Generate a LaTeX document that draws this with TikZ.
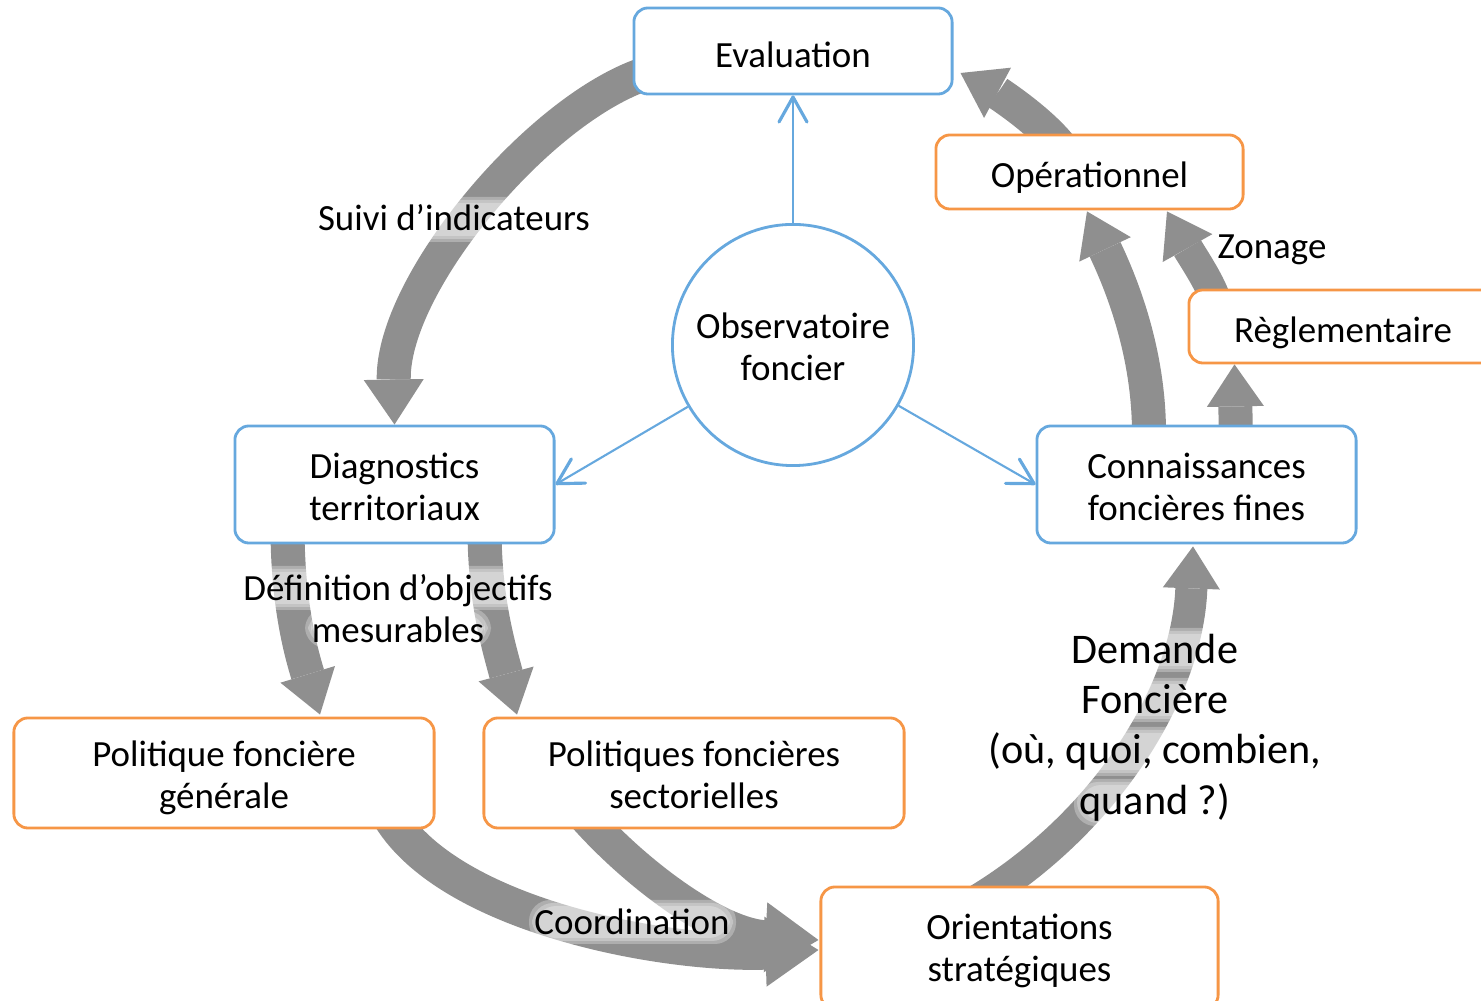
\documentclass[tikz,border=0pt]{standalone}
\usepackage{fontspec}
\setmainfont{Carlito}
\usetikzlibrary{arrows.meta,calc,backgrounds}
\pgfdeclarelayer{glow}
\pgfsetlayers{background,glow,main}

\definecolor{bluebd}{RGB}{102,168,222}
\definecolor{orangebd}{RGB}{246,150,70}
\definecolor{flowgray}{RGB}{143,143,143}

\newcommand\txtfont{\fontsize{10.5}{11.95}\selectfont}
\newcommand\bigtxtfont{\fontsize{12}{14.3}\selectfont}

\tikzset{
  box/.style={draw, line width=0.8pt, rounded corners=0.14cm, fill=white,
              align=center, font=\txtfont, inner sep=0pt},
  bluebox/.style={box, draw=bluebd},
  orangebox/.style={box, draw=orangebd},
  flow/.style={draw=flowgray, line width=0.34cm,
               -{Triangle[length=0.42cm, width=0.57cm, line width=0pt]}},
  link/.style={draw=bluebd, line width=0.6pt,
               -{Straight Barb[length=0.25cm, width=0.28cm, line width=0.9pt, round]}},
  lbl/.style={align=center, inner sep=0pt, font=\txtfont},
}

% soft light band behind one line of a label: three nested translucent
% white rounded rectangles give a fading edge
\newcommand\glowline[4]{%
  \begin{pgfonlayer}{glow}
    \foreach \e in {0,3,6}
      \fill[white, fill opacity=0.28, rounded corners=6pt]
        (#1-\e,#2-\e) rectangle (#3+\e,#4+\e);
  \end{pgfonlayer}}

\begin{document}
\begin{tikzpicture}[x=0.01cm, y=-0.01cm]
\useasboundingbox (0,0) rectangle (1481,1001);

% ---- boxes (frames, then their texts) ----
\node[bluebox, minimum width=3.18cm, minimum height=0.86cm] (eval) at (793,51) {};
\node[lbl] at ($(eval.center)+(0,3.5)$) {Evaluation};
\node[orangebox, minimum width=3.07cm, minimum height=0.74cm] (oper) at (1089.5,172) {};
\node[lbl] at ($(oper.center)+(0,6)$) {Opérationnel};
\node[orangebox, minimum width=3.08cm, minimum height=0.73cm] (regl) at (1343,326.5) {};
\node[lbl] at ($(regl.center)+(0,6)$) {Règlementaire};
\node[draw=bluebd, line width=0.8pt, circle, fill=white, minimum size=2.41cm,
      inner sep=0pt] (obs) at (793,345) {};
\node[lbl] at ($(obs.center)+(0,2)$) {Observatoire\\foncier};
\node[bluebox, minimum width=3.19cm, minimum height=1.17cm] (diag) at (394.5,484.5) {};
\node[lbl] at ($(diag.center)+(0,2)$) {Diagnostics\\territoriaux};
\node[bluebox, minimum width=3.19cm, minimum height=1.17cm] (conn) at (1196.5,484.5) {};
\node[lbl] at ($(conn.center)+(0,2)$) {Connaissances\\foncières fines};
\node[orangebox, minimum width=4.2cm, minimum height=1.1cm] (polg) at (224,773) {};
\node[lbl] at ($(polg.center)+(0,5)$) {Politique foncière\\générale};
\node[orangebox, minimum width=4.2cm, minimum height=1.1cm] (pols) at (694,773) {};
\node[lbl] at ($(pols.center)+(0,2)$) {Politiques foncières\\sectorielles};
\node[orangebox, minimum width=3.97cm, minimum height=1.22cm] (orie) at (1019.5,948) {};
\node[lbl] at ($(orie.center)+(0,3)$) {Orientations\\stratégiques};

% ---- broad grey flow arrows ----
\begin{scope}[on background layer]
  \draw[flow, -{Triangle[length=0.45cm, width=0.6cm, line width=0pt]}]
    ($(eval.west)+(26,19)$) .. controls (550,95) and (392,280) .. (diag.north);
  \draw[flow] ($(oper.north)+(-27.5,15)$) .. controls (1040,120) and (996,92) .. ($(eval.east)+(7,22)$);
  \draw[flow] ($(conn.north)+(-47.5,14)$) .. controls (1150,360) and (1125.5,292.5) .. ($(oper.south)+(-2.5,1)$);
  \draw[flow, line width=0.31cm] ($(regl.north west)+(29,15)$) .. controls (1212,285) and (1192,256) .. ($(oper.south)+(77.5,1)$);
  \draw[flow] ($(conn.north)+(39.5,15)$) -- ($(regl.south west)+(47,0)$);
  \draw[flow] ($(diag.south west)+(54,-13)$) .. controls (288,600) and (299,646) .. ($(polg.north)+(96,-2)$);
  \draw[flow] ($(diag.south west)+(251,-13)$) .. controls (485,600) and (498,644) .. ($(pols.north)+(-177,-2)$);
  \draw[flow, -{Triangle[length=0.53cm, width=0.70cm, line width=0pt]}]
    ($(pols.south)+(-109,-13)$) .. controls (640,878) and (720,935) .. ($(orie.west)+(-1,-8)$);
  \draw[flow, line width=0.36cm, -{Triangle[length=0.53cm, width=0.70cm, line width=0pt]}]
    ($(polg.south)+(166,-13)$) .. controls (450,915) and (660,955) .. ($(orie.west)+(-1,2)$);
  \draw[flow, line width=0.32cm]
    ($(orie.north west)+(144,23)$) .. controls (1095,835) and (1187,700) .. ($(conn.south)+(-3.5,2)$);
\end{scope}

% ---- blue links from the observatory ----
\draw[link] (obs) -- (eval);
\draw[link] (obs) -- (diag.east);
\draw[link] (obs) -- (conn.west);

% ---- labels on the flows ----
\node[lbl] (suivi) at (454,218) {Suivi d’indicateurs};
\glowline{317}{203}{592}{236}

\node[lbl] (zonage) at (1272,250) {Zonage};
\glowline{1217}{234}{1327}{266}

\node[lbl] (defin) at (398,609) {Définition d’objectifs\\mesurables};
\glowline{241}{572}{555}{604}
\glowline{311}{614}{485}{642}

\node[lbl] (coord) at (632,922) {Coordination};
\glowline{535}{906}{730}{938}

\node[lbl, font=\bigtxtfont] (demande) at (1155,727.5) {Demande\\Foncière\\(où, quoi, combien,\\quand ?)};
\glowline{1073}{634}{1237}{666}
\glowline{1082}{684}{1228}{716}
\glowline{988}{733}{1322}{770}
\glowline{1080}{785}{1230}{820}

\end{tikzpicture}
\end{document}
